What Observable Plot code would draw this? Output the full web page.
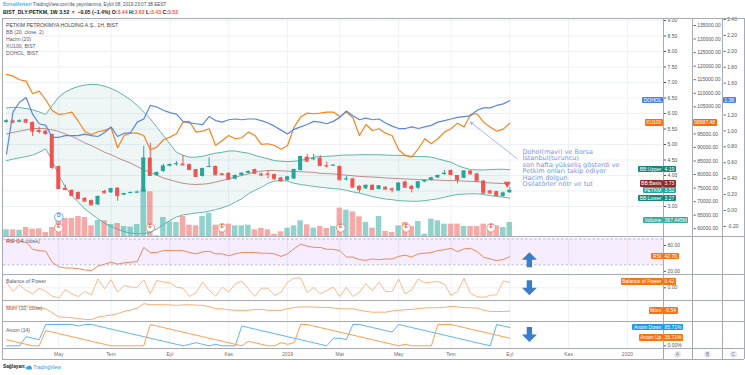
<!DOCTYPE html>
<html lang="tr">
<head>
<meta charset="utf-8">
<script src="https://cdn.jsdelivr.net/npm/d3@7"></script>
<script src="https://cdn.jsdelivr.net/npm/@observablehq/plot@0.6"></script>
<style>
html,body{margin:0;padding:0;background:#fff;}
#root{position:relative;width:745px;height:375px;overflow:hidden;font-family:"Liberation Sans",Arial,sans-serif;background:#fff;}
.pane{position:absolute;left:0;width:745px;}
.pane svg{display:block;}
.hl{position:absolute;height:0;border-top:1px solid #a7aab3;}
.vl{position:absolute;width:0;border-left:1px solid #a7aab3;}
.tag{position:absolute;height:6.4px;line-height:6.4px;font-size:5px;color:#fff;padding:0 1.6px;white-space:nowrap;border-radius:1px;box-sizing:border-box;}
.ttl{position:absolute;white-space:nowrap;color:#4c505b;}
.circ{position:absolute;width:7px;height:7px;border-radius:50%;background:#e6e8ee;color:#787b86;font-size:4.5px;line-height:7px;text-align:center;}
</style>
</head>
<body>
<div id="root"></div>
<script>
// ---------------- DATA (weekly bars, first bar = week of 2018-03-12) ----------------
const firstWeek = "2018-03-12";
const barCount = 78;
const open  = [5.71,5.76,5.72,5.80,5.71,5.45,5.43,5.32,4.29,3.59,3.52,3.45,3.26,3.19,3.05,3.49,3.44,3.59,3.37,3.43,3.45,3.46,4.56,4.00,4.13,4.30,4.36,4.37,4.35,4.19,3.97,4.28,4.29,4.05,4.07,3.88,4.00,4.07,4.19,4.05,4.05,4.03,3.92,3.84,3.89,4.16,4.59,4.53,4.56,4.32,4.32,4.29,3.88,3.89,3.65,3.57,3.68,3.55,3.62,3.57,3.50,3.79,3.65,3.59,3.79,3.84,3.92,4.03,4.16,4.00,3.91,4.14,4.05,3.82,3.50,3.48,3.32,3.44];
const high  = [5.80,5.79,5.80,5.82,5.73,5.56,5.46,5.34,4.30,3.69,3.54,3.47,3.29,3.21,3.35,3.52,3.59,3.61,3.43,3.47,3.50,4.94,5.04,4.12,4.36,4.38,4.45,4.65,4.37,4.20,4.24,4.57,4.31,4.07,4.09,4.02,4.09,4.15,4.21,4.07,4.16,4.05,3.94,3.97,4.21,4.63,4.68,4.68,4.65,4.43,4.35,4.31,3.97,3.91,3.67,3.70,3.70,3.67,3.64,3.59,3.77,3.82,3.68,3.81,3.86,3.94,4.02,4.16,4.18,4.00,4.16,4.16,4.07,3.84,3.52,3.49,3.46,3.62];
const low   = [5.69,5.68,5.70,5.68,5.26,5.34,5.30,4.20,3.56,3.53,3.33,3.22,3.15,3.03,3.03,3.42,3.42,3.17,3.35,3.41,3.43,3.44,3.98,3.97,4.10,4.28,4.30,4.32,4.17,3.95,3.95,4.26,4.00,4.00,3.85,3.86,3.98,4.05,4.05,3.96,3.89,3.87,3.80,3.82,3.87,4.14,4.44,4.48,4.30,4.24,4.30,3.84,3.82,3.60,3.43,3.55,3.53,3.53,3.54,3.44,3.48,3.60,3.44,3.55,3.77,3.82,3.90,4.01,4.01,3.73,3.89,4.03,3.80,3.41,3.41,3.33,3.30,3.43];
const close = [5.76,5.72,5.76,5.72,5.43,5.42,5.35,4.26,3.58,3.55,3.35,3.26,3.17,3.05,3.32,3.44,3.57,3.35,3.41,3.45,3.46,4.56,4.00,4.09,4.30,4.35,4.38,4.34,4.19,3.97,4.22,4.29,4.02,4.03,3.88,4.00,4.07,4.13,4.07,4.02,4.04,3.89,3.82,3.95,4.19,4.61,4.46,4.54,4.32,4.31,4.33,3.86,3.89,3.62,3.55,3.68,3.55,3.66,3.56,3.54,3.75,3.62,3.58,3.79,3.84,3.92,4.00,4.07,4.03,3.87,4.14,4.05,3.82,3.43,3.43,3.35,3.43,3.52];
const volumeM = [175,175,166,236,192,201,105,236,499,472,472,525,499,280,420,411,315,341,262,245,315,1242,1172,18,499,385,367,525,297,280,525,612,297,236,324,280,280,297,175,210,175,61,122,219,280,411,306,219,262,210,262,744,691,647,516,367,219,525,131,105,280,367,262,394,61,455,411,324,324,324,262,262,262,324,280,280,236,367.445];
const bbUpper = [6.18,6.20,6.19,6.16,6.12,6.05,5.97,6.26,6.53,6.69,6.80,6.87,6.92,6.94,6.93,6.88,6.81,6.71,6.58,6.44,6.26,6.04,5.83,5.56,5.29,5.02,4.75,4.65,4.59,4.59,4.62,4.67,4.72,4.75,4.79,4.79,4.75,4.72,4.65,4.59,4.54,4.48,4.46,4.45,4.46,4.48,4.54,4.59,4.61,4.62,4.63,4.65,4.66,4.66,4.67,4.67,4.67,4.67,4.66,4.65,4.65,4.64,4.62,4.61,4.61,4.59,4.54,4.48,4.43,4.32,4.25,4.19,4.18,4.18,4.19,4.20,4.20,4.19];
const bbBasis = [5.34,5.39,5.43,5.47,5.51,5.52,5.51,5.47,5.42,5.34,5.26,5.16,5.05,4.96,4.86,4.75,4.67,4.57,4.48,4.40,4.29,4.18,4.10,4.01,3.92,3.86,3.80,3.75,3.72,3.71,3.72,3.74,3.79,3.84,3.89,3.95,4.00,4.05,4.11,4.14,4.16,4.16,4.15,4.14,4.13,4.12,4.11,4.10,4.07,4.06,4.05,4.03,4.01,3.99,3.97,3.96,3.95,3.94,3.92,3.91,3.90,3.89,3.88,3.87,3.86,3.86,3.85,3.84,3.84,3.83,3.82,3.81,3.80,3.78,3.76,3.75,3.74,3.73];
const bbLower = [4.48,4.53,4.57,4.61,4.66,4.75,4.86,4.48,4.00,3.62,3.35,3.14,2.92,2.76,2.60,2.46,2.35,2.26,2.19,2.14,2.12,2.12,2.17,2.28,2.41,2.55,2.66,2.73,2.76,2.79,2.81,2.85,2.90,2.96,3.03,3.14,3.25,3.41,3.52,3.62,3.75,3.82,3.84,3.82,3.75,3.71,3.68,3.65,3.62,3.60,3.58,3.56,3.52,3.47,3.43,3.38,3.32,3.28,3.24,3.22,3.19,3.18,3.17,3.17,3.19,3.22,3.25,3.30,3.35,3.39,3.40,3.41,3.41,3.39,3.35,3.33,3.30,3.27];
const xu100 = [116940,116310,114980,114470,109820,110790,107600,103650,102180,102430,103040,99590,95900,94790,95790,96270,97270,89890,94430,95280,95280,94430,89150,90130,92840,93820,95060,99340,99590,95650,96010,96900,90740,92580,94430,93210,93580,95650,94430,91110,91370,90740,89370,90740,97510,101200,102670,102430,102670,103040,103040,101440,103040,100960,94430,98490,96270,96900,95280,94430,89150,87050,86420,89520,93210,91370,93210,95650,96900,98970,97510,102180,102430,99340,97510,96010,96750,98987.48];
const dohol = [0.71,1.24,1.36,1.42,1.21,1.09,1.07,0.92,0.92,0.94,0.94,0.94,0.96,0.94,0.93,0.98,1.05,0.93,0.97,0.98,1.11,1.15,1.32,1.30,1.26,1.23,1.21,1.12,1.10,1.09,1.08,1.18,1.13,1.11,1.14,1.15,1.14,1.15,1.15,1.13,1.10,1.06,1.01,0.96,1.02,1.05,1.08,1.12,1.11,1.09,1.12,1.17,1.25,1.19,1.14,1.16,1.14,1.15,1.10,1.06,1.03,1.03,1.05,1.03,1.05,1.07,1.11,1.13,1.15,1.17,1.18,1.19,1.26,1.29,1.29,1.32,1.34,1.38];
const rsi = [67,67,67,65,54,52,51,34,27,25,25,24,22,21,28,31,34,31,33,34,35,57,49,49,52,52,52,52,49,47,50,51,47,47,44,47,49,49,49,48,48,47,43,47,55,62,59,57,57,54,54,52,42,42,38,37,39,38,39,39,43,45,42,47,48,49,52,53.5,55.6,50.5,54.6,55.6,50.5,41.7,39.2,36.6,38.2,42.7];
const bop = [0.45,-0.29,0.24,-0.21,-0.48,-0.03,-0.29,-0.66,-0.82,-0.13,-0.48,-0.69,-0.29,-0.56,0.71,-0.08,0.64,-0.34,0.19,0.05,0.05,0.64,-0.48,0.58,0.45,0.40,0.05,-0.03,-0.69,-0.40,0.45,-0.21,-0.66,0.05,-0.34,0.32,0.53,-0.08,-0.69,-0.03,-0.03,-0.61,-0.34,0.45,0.77,0.79,-0.40,0.05,-0.48,-0.21,0.05,-0.69,0.05,-0.69,-0.34,0.32,-0.21,0.45,-0.30,-0.30,0.70,-0.50,-0.15,0.70,0.40,0.45,0.50,0.30,-0.60,-0.30,0.75,-0.45,-0.70,-0.75,-0.60,-0.55,0.55,0.42];
const mom = [0.70,0.70,0.70,0.70,0.70,0.35,0.05,-0.94,-1.99,-2.05,-2.15,-2.40,-2.56,-2.65,-2.0,-1.74,-1.5,-1.16,-0.6,-0.25,0.2,1.32,1.07,1.07,1.07,1.0,0.91,1.0,1.07,0.95,0.91,0.6,0.05,0.05,-0.2,-0.33,-0.33,-0.33,-0.15,-0.1,-0.33,-0.33,-0.33,0.05,0.4,0.5,0.5,0.5,0.4,0.4,0.25,0.05,0.05,0.05,-0.3,-0.6,-0.79,-0.79,-0.79,-0.5,-0.33,-0.2,-0.08,0.1,0.25,0.3,0.33,0.4,0.66,0.5,0.33,0.3,0.25,-0.3,-0.6,-0.62,-0.62,-0.54];
const aroonUp = [28.6,21.4,14.3,7.1,0,0,71.4,64.3,57.1,50,42.9,35.7,28.6,21.4,14.3,7.1,0,0,0,0,0,0,100,92.9,85.7,78.6,71.4,64.3,57.1,50,42.9,35.7,28.6,21.4,14.3,7.1,0,21.4,14.3,7.1,0,0,14.3,7.1,14.3,100,100,92.9,85.7,78.6,71.4,64.3,57.1,50,42.9,35.7,28.6,21.4,14.3,7.1,0,7.1,0,0,0,0,100,100,100,92.9,85.7,78.6,71.4,64.3,57.1,50,42.9,35.71];
const aroonDown = [0,0,0,42.9,35.7,28.6,100,100,100,100,100,92.9,100,100,92.9,85.7,78.6,71.4,64.3,57.1,50,42.9,35.7,28.6,21.4,14.3,7.1,0,7.1,14.3,7.1,0,7.1,0,0,0,92.9,85.7,78.6,71.4,64.3,57.1,50,42.9,35.7,28.6,21.4,14.3,7.1,0,35.7,35.7,28.6,100,100,92.9,85.7,78.6,71.4,64.3,100,92.9,85.7,78.6,71.4,64.3,57.1,50,42.9,35.7,28.6,21.4,14.3,7.1,0,100,92.9,85.71];

// time-axis ticks
const monthTickDates  = ["2018-05-07","2018-07-02","2018-09-03","2018-11-05","2019-01-07","2019-03-04","2019-05-06","2019-07-01","2019-09-02","2019-11-04","2020-01-06"];
const monthTickLabels = ["May","Tem","Eyl","Kas","2019","Mar","May","Tem","Eyl","Kas","2020"];
// value-axis ticks (values hidden behind the last-value tags are left out)
const priceGrid  = [3,3.5,4,4.5,5,5.5,6,6.5,7,7.5,8,8.5,9];
const priceTicks = [3,4,4.5,5,5.5,6,6.5,7,7.5,8,8.5,9];
const xuTicks = [60000,65000,70000,75000,80000,85000,90000,95000,105000,110000,115000,120000,125000,130000,135000];
const doholTicks = [-0.2,0,0.2,0.4,0.6,0.8,1.0,1.2,1.6,1.8,2.0,2.2,2.4];
const rsiTicks = [20,60];
const rsiBandLevels = [30,70];
const aroonTicks = [0];
const bopTicks = [0];
// events
const earningsDates = ["2018-05-07","2018-08-13","2018-10-29","2019-03-05","2019-05-14","2019-08-13"];
const dividendDates = ["2018-05-07"];
// annotations (in week number since first bar, and value units)
const noteLines = ["Dohol(mavi) ve Borsa","İstanbul(turuncu)","son hafta yükseliş gösterdi ve","Petkim onları takip ediyor","Hacim dolgun","Osilatörler nötr ve tut"];
const noteWeek = 78.95, notePrice = 4.85;
const noteArrowFrom = [78.14, 4.54], noteArrowTo = [71.0, 5.72];
const flagWeek = 76.6, flagPrice = 3.73;
const signalWeek = 80.0;
const signalRSI = 37.9, signalBOP = 0.0, signalAroon = 53.5;

// ---------------- HELPERS ----------------
const W = 745;
const FONT = '"Liberation Sans", Arial, sans-serif';
const root = document.getElementById("root");
const DAY = 864e5;
const t0 = new Date(firstWeek + "T00:00:00Z");
const weekAt = k => new Date(+t0 + k * 7 * DAY);
const shift = (d, days) => new Date(+d + days * DAY);
const toDate = s => new Date(s + "T00:00:00Z");
const weeks = d3.utcMonday.range(t0, d3.utcMonday.offset(t0, barCount));
const rows = weeks.map((date, i) => ({
  date, o: open[i], h: high[i], l: low[i], c: close[i], vol: volumeM[i],
  bbU: bbUpper[i], bbB: bbBasis[i], bbL: bbLower[i], xu: xu100[i], dh: dohol[i],
  rsi: rsi[i], bop: bop[i], mom: mom[i], aUp: aroonUp[i], aDn: aroonDown[i]
}));
const upRows = rows.filter(d => d.c >= d.o);
const downRows = rows.filter(d => d.c < d.o);
const monthDates = monthTickDates.map(toDate);
const monthLabel = new Map(monthDates.map((d, i) => [+d, monthTickLabels[i]]));
const xDomain = [weekAt(-0.459), weekAt(100.52)];
const xScale = {type: "utc", domain: xDomain, range: [3, 663], axis: null};

const base = (h, mr = 82, mb = 0) => ({
  width: W, height: h, marginTop: 0, marginBottom: mb, marginLeft: 3, marginRight: mr,
  style: {fontSize: "5px", fontFamily: FONT, color: "#50535e", background: "transparent", overflow: "visible"},
  x: xScale
});
const yAxis = (ticks, fmt) => Plot.axisY({anchor: "right", ticks, tickFormat: fmt, tickSize: 2, tickPadding: 2, label: null});
function mount(plot, top) {
  const d = document.createElement("div");
  d.className = "pane"; d.style.top = top + "px";
  d.appendChild(plot); root.appendChild(d); return plot;
}
function yFn(plot) {
  const s = plot.scale("y");
  if (s && typeof s.apply === "function") return v => s.apply(v);
  return d3.scaleLinear(s.domain, s.range);
}
function tag(text, bg, yc, opts) {
  const s = document.createElement("div");
  s.className = "tag"; s.textContent = text; s.style.background = bg;
  s.style.top = (yc - 3.2) + "px";
  if (opts.right != null) s.style.right = (W - opts.right) + "px"; else s.style.left = opts.left + "px";
  root.appendChild(s);
}
function txt(x, yc, html, size, color, extra = "") {
  const s = document.createElement("div");
  s.className = "ttl"; s.innerHTML = html;
  s.style.cssText += `left:${x}px;top:${yc - size * 0.6}px;font-size:${size}px;line-height:${size * 1.2}px;color:${color};${extra}`;
  root.appendChild(s); return s;
}
function hline(y, x0 = 2, x1 = 744) { const d = document.createElement("div"); d.className = "hl"; d.style.cssText += `top:${y}px;left:${x0}px;width:${x1 - x0}px`; root.appendChild(d); }
function vline(x, y0 = 18, y1 = 359) { const d = document.createElement("div"); d.className = "vl"; d.style.cssText += `left:${x}px;top:${y0}px;height:${y1 - y0}px`; root.appendChild(d); }

const fatArrow = {
  draw(ctx, size) {
    const r = Math.sqrt(size / Math.PI), hw = 0.36 * r, neck = 0.0;
    ctx.moveTo(0, -r); ctx.lineTo(r, neck); ctx.lineTo(hw, neck); ctx.lineTo(hw, r);
    ctx.lineTo(-hw, r); ctx.lineTo(-hw, neck); ctx.lineTo(-r, neck); ctx.closePath();
  }
};
const grid = "#eef1f6";
const UP = "#26a69a", DN = "#ef5350";
const bw = 2.15, vw = 2.95;

// ---------------- MAIN PANE ----------------
const mainTop = 18, mainH = 218;
const priceDomain = [2.0323, 9.0645];
const xuDomain = [57141, 137583];
const doholDomain = [-0.3268, 2.4126];
const volDomain = [0, 5722.5];

mount(Plot.plot({...base(mainH), y: {domain: priceDomain, axis: null}, marks: [
  Plot.ruleY(priceGrid, {stroke: grid}),
  Plot.ruleX(monthDates, {stroke: grid}),
  Plot.areaY(rows, {x: "date", y1: "bbL", y2: "bbU", fill: "#138484", fillOpacity: 0.07})
]}), mainTop);

const pVol = mount(Plot.plot({...base(mainH), y: {domain: volDomain, axis: null}, marks: [
  Plot.rect(upRows, {x1: d => shift(d.date, -vw), x2: d => shift(d.date, vw), y1: 0, y2: "vol", fill: UP, fillOpacity: 0.5}),
  Plot.rect(downRows, {x1: d => shift(d.date, -vw), x2: d => shift(d.date, vw), y1: 0, y2: "vol", fill: DN, fillOpacity: 0.5}),
  Plot.dot(dividendDates.map(toDate), {x: d => d, frameAnchor: "bottom", dy: -19.5, r: 4.3, fill: "white", stroke: "#5d9cf0", strokeWidth: 0.8}),
  Plot.text(dividendDates.map(toDate), {x: d => d, frameAnchor: "bottom", dy: -19.5, text: () => "D", fill: "#3d8bea", fontSize: 5, fontWeight: "bold"}),
  Plot.dot(earningsDates.map(toDate), {x: d => d, frameAnchor: "bottom", dy: -8.7, r: 4.3, fill: "white", stroke: "#f07b79", strokeWidth: 0.8}),
  Plot.text(earningsDates.map(toDate), {x: d => d, frameAnchor: "bottom", dy: -8.7, text: () => "E", fill: "#e5534b", fontSize: 5, fontWeight: "bold"})
]}), mainTop);

const pPrice = mount(Plot.plot({...base(mainH), y: {domain: priceDomain, axis: null}, marks: [
  Plot.line(rows, {x: "date", y: "bbU", stroke: "#52aea2", strokeWidth: 0.9}),
  Plot.line(rows, {x: "date", y: "bbL", stroke: "#52aea2", strokeWidth: 0.9}),
  Plot.line(rows, {x: "date", y: "bbB", stroke: "#a86464", strokeOpacity: 0.8, strokeWidth: 0.9}),
  Plot.ruleX(upRows, {x: "date", y1: "l", y2: "h", stroke: UP, strokeWidth: 1}),
  Plot.ruleX(downRows, {x: "date", y1: "l", y2: "h", stroke: DN, strokeWidth: 1}),
  Plot.rect(upRows, {x1: d => shift(d.date, -bw), x2: d => shift(d.date, bw), y1: "o", y2: "c", fill: UP}),
  Plot.rect(downRows, {x1: d => shift(d.date, -bw), x2: d => shift(d.date, bw), y1: "o", y2: "c", fill: DN}),
  Plot.ruleY(upRows, {x1: d => shift(d.date, -bw), x2: d => shift(d.date, bw), y: "c", stroke: UP}),
  Plot.ruleY(downRows, {x1: d => shift(d.date, -bw), x2: d => shift(d.date, bw), y: "c", stroke: DN}),
  Plot.dot([{k: flagWeek, v: flagPrice}], {x: d => weekAt(d.k), y: "v", symbol: "triangle", rotate: 180, r: 2.6, fill: DN}),
  Plot.arrow([{a: noteArrowFrom, b: noteArrowTo}], {x1: d => weekAt(d.a[0]), y1: d => d.a[1], x2: d => weekAt(d.b[0]), y2: d => d.b[1], stroke: "#8aa6de", strokeWidth: 0.8, headLength: 5}),
  Plot.text([noteLines.join("\n")], {x: () => weekAt(noteWeek), y: () => notePrice, text: d => d, textAnchor: "start", lineAnchor: "top", fontSize: 6.5, lineHeight: 1.0, fontFamily: "DejaVu Sans", fill: "#7896e4"}),
  yAxis(priceTicks, d => d.toFixed(2))
]}), mainTop);

const pXU = mount(Plot.plot({...base(mainH, 52.3), y: {domain: xuDomain, axis: null}, marks: [
  Plot.line(rows, {x: "date", y: "xu", stroke: "#f7841e", strokeWidth: 1.2}),
  yAxis(xuTicks, d => d.toFixed(2))
]}), mainTop);

const pDH = mount(Plot.plot({...base(mainH, 22.3), y: {domain: doholDomain, axis: null}, marks: [
  Plot.line(rows, {x: "date", y: "dh", stroke: "#5b86e5", strokeWidth: 1.2}),
  yAxis(doholTicks, d => d.toFixed(2))
]}), mainTop);

// ---------------- SUB PANES ----------------
const rsiTop = 236, bopTop = 274, momTop = 300, arTop = 321;
const pRSI = mount(Plot.plot({...base(38), y: {domain: [14.97, 73.88], axis: null}, marks: [
  Plot.ruleX(monthDates, {stroke: grid}),
  Plot.rect([rsiBandLevels], {x1: () => xDomain[0], x2: () => xDomain[1], y1: d => d[0], y2: d => d[1], fill: "#a64dff", fillOpacity: 0.1}),
  Plot.ruleY(rsiBandLevels, {stroke: "#b3a3d6", strokeDasharray: "2.5,2", strokeWidth: 0.8}),
  Plot.line(rows, {x: "date", y: "rsi", stroke: "#f0875a", strokeWidth: 1}),
  Plot.dot([signalRSI], {x: () => weekAt(signalWeek), y: d => d, symbol: fatArrow, r: 7.5, fill: "#3d7cc9"}),
  yAxis(rsiTicks, d => d.toFixed(2))
]}), rsiTop);

const pBOP = mount(Plot.plot({...base(26), y: {domain: [-1.008, 1.056], axis: null}, marks: [
  Plot.ruleX(monthDates, {stroke: grid}),
  Plot.ruleY([0], {stroke: grid}),
  Plot.line(rows, {x: "date", y: "bop", stroke: "#fdb98a", strokeWidth: 1}),
  Plot.dot([signalBOP], {x: () => weekAt(signalWeek), y: d => d, symbol: fatArrow, rotate: 180, r: 7.5, fill: "#3d7cc9"}),
  yAxis(bopTicks, d => d.toFixed(2))
]}), bopTop);

const pMom = mount(Plot.plot({...base(21), y: {domain: [-3.102, 2.109], axis: null}, marks: [
  Plot.ruleX(monthDates, {stroke: grid}),
  Plot.line(rows, {x: "date", y: "mom", stroke: "#fbac74", strokeWidth: 1})
]}), momTop);

const pAr = mount(Plot.plot({...base(38, 82, 11), y: {domain: [-12.68, 114.08], axis: null}, marks: [
  Plot.ruleX(monthDates, {stroke: grid}),
  Plot.line(rows, {x: "date", y: "aDn", stroke: "#5fb4f4", strokeWidth: 1}),
  Plot.line(rows, {x: "date", y: "aUp", stroke: "#ff9d50", strokeWidth: 1}),
  Plot.dot([signalAroon], {x: () => weekAt(signalWeek), y: d => d, symbol: fatArrow, rotate: 180, r: 7.5, fill: "#3d7cc9"}),
  yAxis(aroonTicks, d => d.toFixed(2) + "%"),
  Plot.axisX({anchor: "bottom", ticks: monthDates, tickFormat: d => monthLabel.get(+d), tickSize: 0, tickPadding: 4, fill: "#6a6d78", label: null})
]}), arTop);

// ---------------- FRAME ----------------
hline(18); hline(236); hline(274); hline(300); hline(321); hline(348); hline(359);
vline(2); vline(744); vline(663); vline(692); vline(722);

// ---------------- LABEL TAGS (positioned through the plots' scales) ----------------
const L = barCount - 1;
const yP = yFn(pPrice), yX = yFn(pXU), yD = yFn(pDH), yV = yFn(pVol);
tag("DOHOL", "#4a84e6", mainTop + yD(dohol[L]), {right: 663});
tag(dohol[L].toFixed(2), "#4a84e6", mainTop + yD(dohol[L]), {left: 722.7});
tag("XU100", "#f96d0f", mainTop + yX(xu100[L]), {right: 663});
tag(xu100[L].toFixed(2), "#f96d0f", mainTop + yX(xu100[L]), {left: 692.7});
tag("BB:Upper", "#17877d", mainTop + yP(bbUpper[L]), {right: 663});
tag(bbUpper[L].toFixed(2), "#17877d", mainTop + yP(bbUpper[L]), {left: 663});
tag("BB:Basis", "#8b2b2b", mainTop + yP(bbBasis[L]), {right: 663});
tag(bbBasis[L].toFixed(2), "#8b2b2b", mainTop + yP(bbBasis[L]), {left: 663});
tag("PETKM", "#26a69a", mainTop + yP(close[L]), {right: 663});
tag(close[L].toFixed(2), "#26a69a", mainTop + yP(close[L]), {left: 663});
tag("BB:Lower", "#17877d", mainTop + yP(bbLower[L]) + 0.6, {right: 663});
tag(bbLower[L].toFixed(2), "#17877d", mainTop + yP(bbLower[L]) + 0.6, {left: 663});
tag("Volume", "#3aae9f", mainTop + yV(volumeM[L]) - 2, {right: 663});
tag(volumeM[L].toFixed(3) + "M", "#3aae9f", mainTop + yV(volumeM[L]) - 2, {left: 663});

const yR = yFn(pRSI), yB = yFn(pBOP), yM = yFn(pMom), yA = yFn(pAr);
tag("RSI", "#f7740f", rsiTop + yR(rsi[L]), {right: 663});
tag(rsi[L].toFixed(2), "#f7740f", rsiTop + yR(rsi[L]), {left: 663});
tag("Balance of Power", "#f7740f", bopTop + yB(bop[L]) - 0.6, {right: 663});
tag(bop[L].toFixed(2), "#f7740f", bopTop + yB(bop[L]) - 0.6, {left: 663});
tag("Mom", "#f7740f", momTop + yM(mom[L]), {right: 663});
tag(mom[L].toFixed(2), "#f7740f", momTop + yM(mom[L]), {left: 663});
tag("Aroon Down", "#2196f3", arTop + yA(aroonDown[L]), {right: 663});
tag(aroonDown[L].toFixed(2) + "%", "#2196f3", arTop + yA(aroonDown[L]), {left: 663});
tag("Aroon Up", "#f7740f", arTop + yA(aroonUp[L]), {right: 663});
tag(aroonUp[L].toFixed(2) + "%", "#f7740f", arTop + yA(aroonUp[L]), {left: 663});

// ---------------- TEXTS ----------------
txt(3, 5, `<span style="color:#2196f3">BorsaMerkezi</span> TradingView.com'da yayınlanmış, Eylül 08, 2019 23:07:38 EEST`, 4.7, "#4c505b");
txt(3, 12.4, `<b>BIST_DLY:PETKM, 1W</b> <b>3.52</b> <span style="color:#ef5350">▼</span> <b>−0.05 (−1.4%)</b> <b>O:</b><b style="color:#ef5350">3.44</b> <b>H:</b><b style="color:#ef5350">3.62</b> <b>L:</b><b style="color:#ef5350">3.43</b> <b>C:</b><b style="color:#ef5350">3.52</b>`, 5.2, "#131722");
const legendLines = ["PETKİM PETROKİMYA HOLDİNG A.Ş., 1H, BIST", "BB (20, close, 2)", "Hacim (20)", "XU100, BIST", "DOHOL, BIST"];
legendLines.forEach((s, i) => txt(6, 25 + i * 7.1, s, 5.1, i === 0 ? "#3c3f49" : "#5d606b"));
txt(6, 241, "RSI (14, close)", 5.1, "#5d606b");
txt(6, 281, "Balance of Power", 5.1, "#5d606b");
txt(6, 307.7, "Mom (10, close)", 5.1, "#5d606b");
txt(6, 329.7, "Aroon (14)", 5.1, "#5d606b");
// scale buttons
["A", "B", "C"].forEach((s, i) => {
  const d = document.createElement("div"); d.className = "circ"; d.textContent = s;
  d.style.left = ([677.5, 707.5, 733][i] - 3.5) + "px"; d.style.top = (354.2 - 3.5) + "px"; root.appendChild(d);
});
// footer
txt(3, 367.3, `<b>Sağlayan:</b>`, 4.8, "#131722");
txt(26, 367.3, `<svg width="6" height="5" viewBox="0 0 12 10" style="vertical-align:-0.5px"><path d="M3 9 a3 3 0 0 1 0-6 a4 4 0 0 1 7.5 1 a2.6 2.6 0 0 1 -0.5 5 z" fill="#3aa0e6"/></svg><span style="color:#2f95dc"> TradingView</span>`, 5, "#2f95dc");
</script>
</body>
</html>
